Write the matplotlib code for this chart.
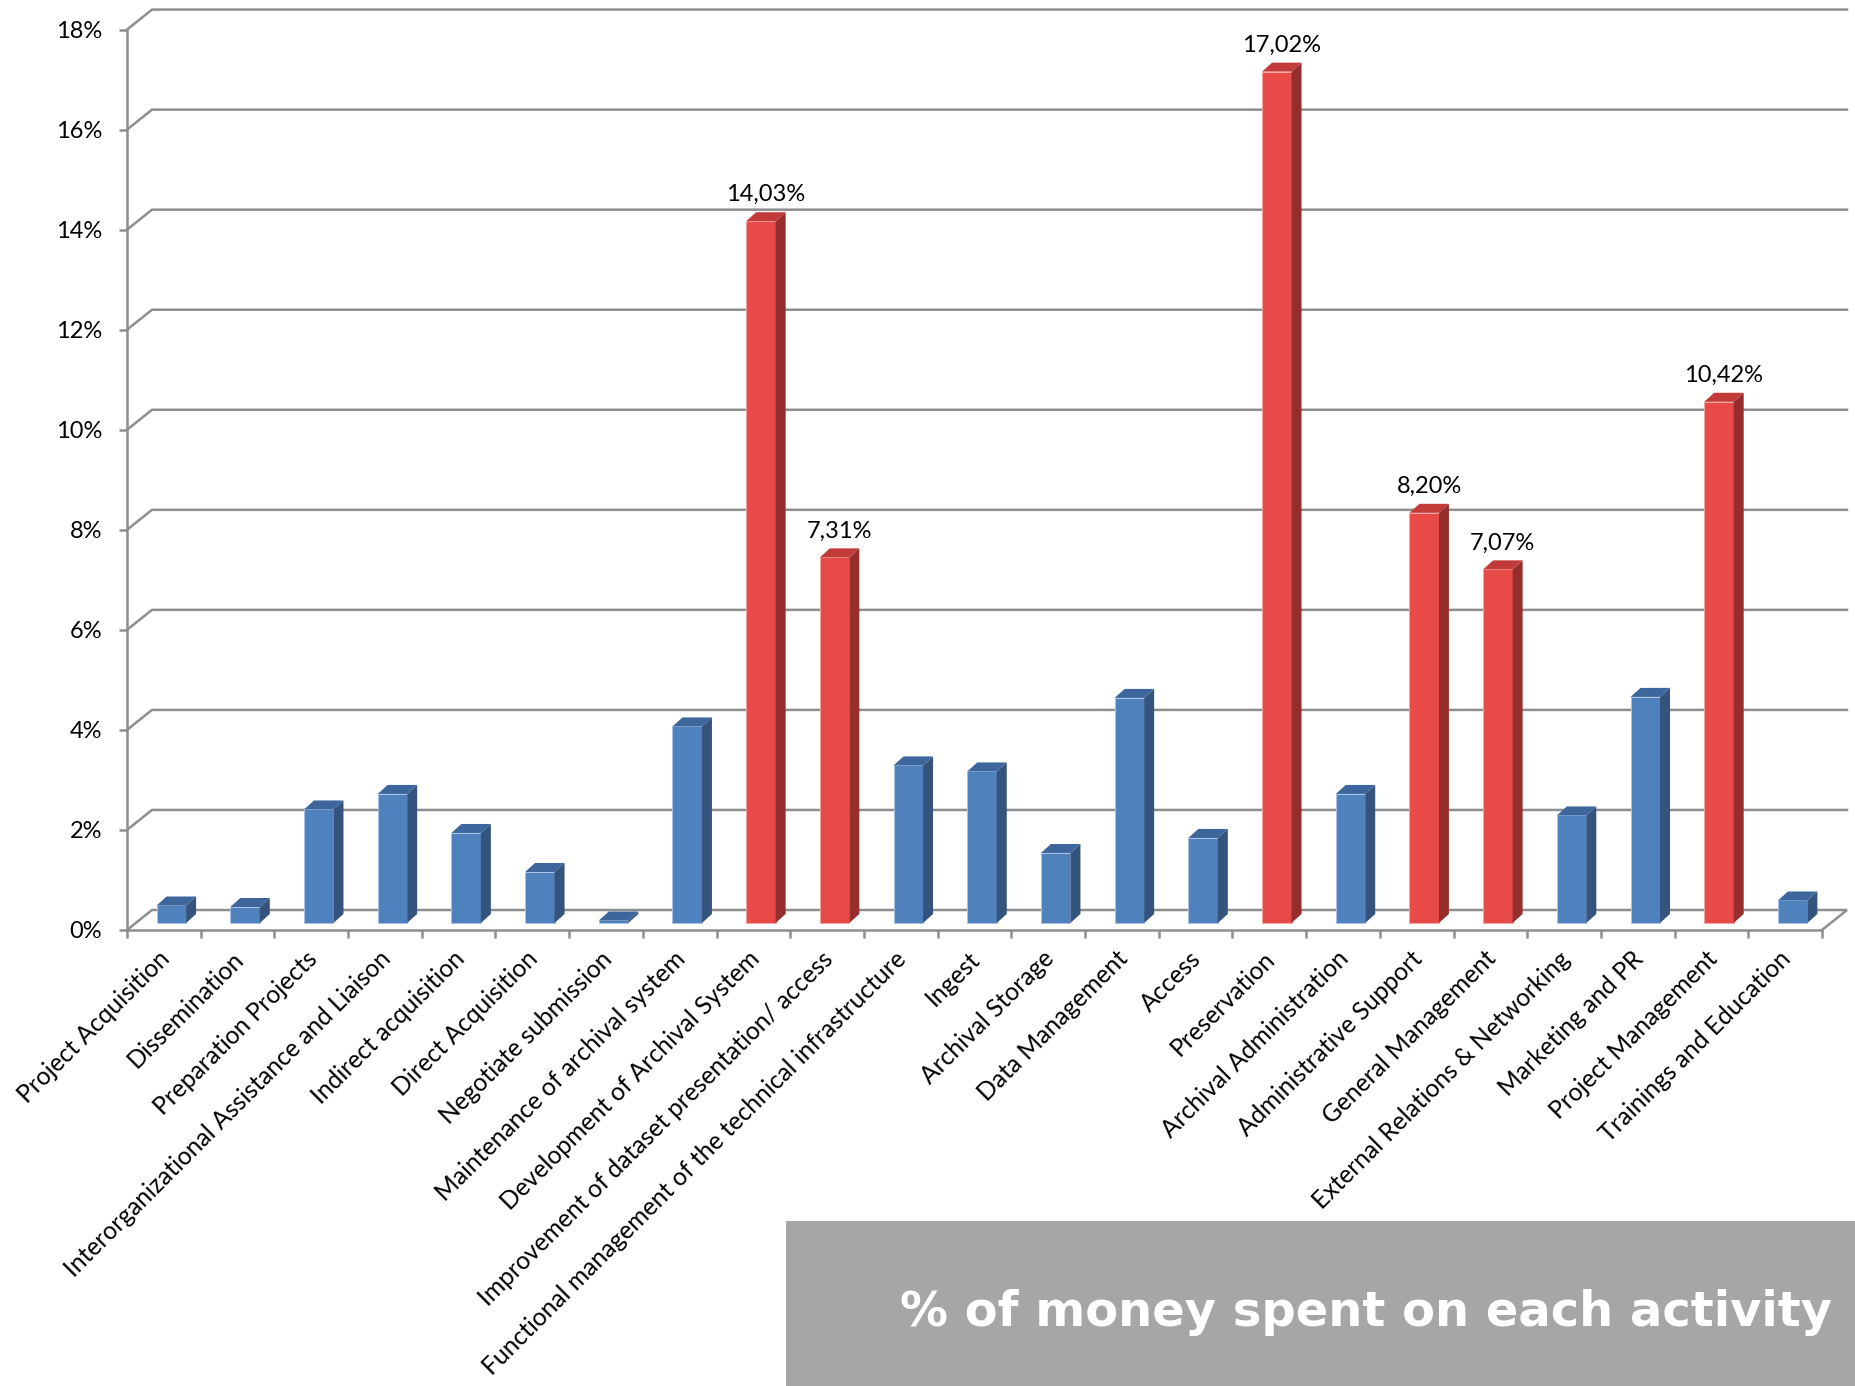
import matplotlib.pyplot as plt
from matplotlib.patches import Polygon, Rectangle
from matplotlib.transforms import ScaledTranslation
import numpy as np

activities = [
    "Project Acquisition", "Dissemination", "Preparation Projects",
    "Interorganizational Assistance and Liaison", "Indirect acquisition",
    "Direct Acquisition", "Negotiate submission", "Maintenance of archival system",
    "Development of Archival System", "Improvement of dataset presentation/ access",
    "Functional management of the technical infrastructure", "Ingest",
    "Archival Storage", "Data Management", "Access", "Preservation",
    "Archival Administration", "Administrative Support", "General Management",
    "External Relations & Networking", "Marketing and PR", "Project Management",
    "Trainings and Education",
]
values = [0.35, 0.32, 2.27, 2.58, 1.80, 1.02, 0.05, 3.93, 14.03, 7.31, 3.15, 3.03,
          1.40, 4.50, 1.70, 17.02, 2.58, 8.20, 7.07, 2.15, 4.52, 10.42, 0.45]
highlighted = [False, False, False, False, False, False, False, False, True, True,
               False, False, False, False, False, True, False, True, True, False,
               False, True, False]
y_ticks = list(range(0, 19, 2))

W, H = 1856, 1386
fig = plt.figure(figsize=(W / 100, H / 100), dpi=100)
ax_l, ax_r, ax_b, ax_t = 127, 1822, 930, 29.6
ax = fig.add_axes([ax_l / W, (H - ax_b) / H, (ax_r - ax_l) / W, (ax_b - ax_t) / H])
n = len(activities)
ax.set_xlim(0, n)
ax.set_ylim(0, 18)
ax.patch.set_visible(False)

# pixel -> data conversion for the fake 3D offsets
px_x = (ax_r - ax_l) / n
px_y = (ax_b - ax_t) / 18
back_dx, back_dy = 25 / px_x, 20 / px_y    # back wall
bar_dx, bar_dy = 7.5 / px_x, 7 / px_y      # plane of the bars
dep_dx, dep_dy = 10 / px_x, 9 / px_y       # bar depth

grid_c = "#8E8E8E"
glw = 1.8

# back wall grid + floor
for t in y_ticks:
    xs = [0, back_dx, n + back_dx]
    ys = [t, t + back_dy, t + back_dy]
    if t == 0:
        xs.append(n)
        ys.append(0)
    ax.plot(xs, ys, color=grid_c, lw=glw, clip_on=False, zorder=1, solid_joinstyle="miter")

for s in ["top", "right"]:
    ax.spines[s].set_visible(False)
for s in ["left", "bottom"]:
    ax.spines[s].set_color(grid_c)
    ax.spines[s].set_linewidth(glw)

# bars
bw = 0.40
blue = ("#4F81BD", "#34547D", "#3D679C", "#A9C4E6")
red = ("#E84A47", "#952E2D", "#C23B39", "#F4A6A4")
centers = np.arange(n) + 0.5 + bar_dx
cols = [red if h else blue for h in highlighted]
ax.bar(centers, values, width=bw, bottom=bar_dy, color=[c[0] for c in cols],
       edgecolor=[c[3] for c in cols], linewidth=0.7, zorder=3)
for xc, v, c in zip(centers, values, cols):
    x0, x1 = xc - bw / 2, xc + bw / 2
    y0, y1 = bar_dy, bar_dy + v
    side = Polygon([(x1, y0), (x1 + dep_dx, y0 + dep_dy), (x1 + dep_dx, y1 + dep_dy), (x1, y1)],
                   closed=True, facecolor=c[1], edgecolor="none", zorder=3, clip_on=False)
    top = Polygon([(x0, y1), (x1, y1), (x1 + dep_dx, y1 + dep_dy), (x0 + dep_dx, y1 + dep_dy)],
                  closed=True, facecolor=c[2], edgecolor="none", zorder=3, clip_on=False)
    ax.add_patch(side)
    ax.add_patch(top)

# data labels on highlighted bars
for xc, v, h in zip(centers, values, highlighted):
    if h:
        ax.annotate(f"{v:.2f}%".replace(".", ","), (xc + dep_dx / 2, bar_dy + v + dep_dy),
                    xytext=(0, 5), textcoords="offset points", ha="center", va="bottom",
                    fontsize=17, family="Lato", color="black", zorder=5, annotation_clip=False)

# y axis
ax.set_yticks(y_ticks)
ax.set_yticklabels([f"{t}%" for t in y_ticks], fontsize=17, family="Lato")
ax.tick_params(axis="y", length=6, width=glw, color=grid_c, pad=12)

# x axis: marks at slot boundaries, labels at slot centres
ax.set_xticks(np.arange(n + 1))
ax.set_xticklabels([])
ax.tick_params(axis="x", which="major", length=6, width=glw, color=grid_c, direction="out")
ax.set_xticks(np.arange(n) + 0.5, minor=True)
ax.set_xticklabels(activities, minor=True, rotation=45, ha="right", va="center",
                   rotation_mode="anchor", fontsize=17.7, family="Lato")
ax.tick_params(axis="x", which="minor", length=0, pad=18)
shift = ScaledTranslation(2 / 100, 0, fig.dpi_scale_trans)
for lbl in ax.get_xticklabels(minor=True):
    lbl.set_transform(lbl.get_transform() + shift)

# title box
fig.patches.append(Rectangle((786 / W, 0), (W - 786) / W, (H - 1221) / H,
                             transform=fig.transFigure, facecolor="#A6A6A6", edgecolor="none"))
fig.text(1832 / W, (H - 1313) / H, "% of money spent on each activity", ha="right", va="center",
         color="white", fontsize=34.6, fontweight="bold", family="DejaVu Sans")

fig.savefig("out.png", dpi=100)
